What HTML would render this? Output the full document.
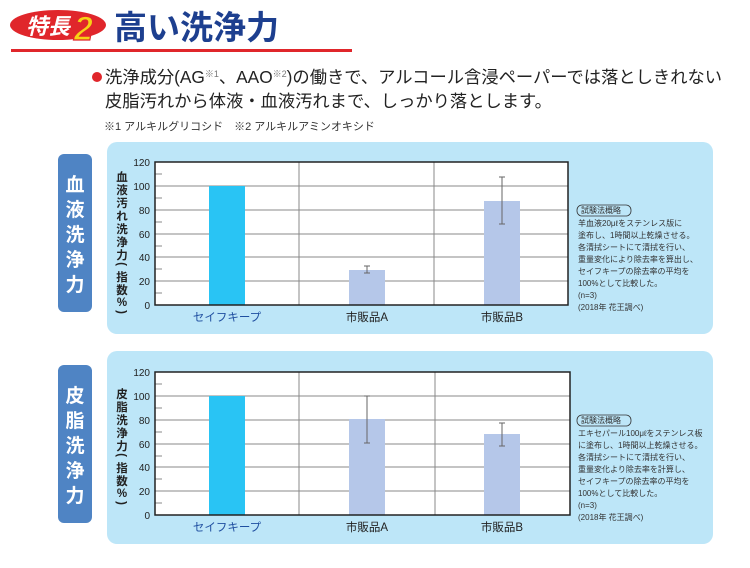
<!DOCTYPE html>
<html><head><meta charset="utf-8"><style>
body{margin:0;background:#fff;}
svg text{font-family:"Liberation Sans","Noto Sans CJK JP",sans-serif;}
</style></head><body>
<svg width="750" height="563" viewBox="0 0 750 563" xmlns="http://www.w3.org/2000/svg">
<!-- header -->
<ellipse cx="58" cy="25" rx="48" ry="15" fill="#e0262b"/>
<text x="26" y="34" font-size="22" font-weight="bold" font-style="italic" fill="#fff">特長</text>
<text x="74" y="40" font-size="34" font-weight="bold" font-style="italic" fill="#f7d115" stroke="#e0262b" stroke-width="1.2">2</text>
<text x="114" y="39" font-size="33" font-weight="bold" fill="#1d3f8f">高い洗浄力</text>
<rect x="11" y="49" width="341" height="3" fill="#e0262b"/>
<circle cx="97" cy="77" r="5" fill="#e0262b"/>
<text x="105" y="83" font-size="17.3" fill="#222">洗浄成分(AG<tspan font-size="9" dy="-6" fill="#777">※1</tspan><tspan dy="6">、AAO</tspan><tspan font-size="9" dy="-6" fill="#777">※2</tspan><tspan dy="6">)の働きで、アルコール含浸ペーパーでは落としきれない</tspan></text>
<text x="105" y="107" font-size="17.3" fill="#222">皮脂汚れから体液・血液汚れまで、しっかり落とします。</text>
<text x="104" y="130" font-size="11" fill="#333">※1 アルキルグリコシド　※2 アルキルアミンオキシド</text>

<!-- panel 1 -->
<rect x="107" y="142" width="606" height="192" rx="10" fill="#bde6f8"/>
<rect x="58" y="154" width="34" height="158" rx="6" fill="#4f84c4"/>
<g font-size="19" fill="#fff" text-anchor="middle" font-weight="bold">
<text x="75" y="191">血</text><text x="75" y="216">液</text><text x="75" y="241">洗</text><text x="75" y="266">浄</text><text x="75" y="291">力</text></g>
<rect x="155" y="162" width="413" height="143" fill="#fff"/>
<g stroke="#888" stroke-width="1">
<line x1="155" y1="186" x2="568" y2="186"/><line x1="155" y1="210" x2="568" y2="210"/><line x1="155" y1="234" x2="568" y2="234"/><line x1="155" y1="257" x2="568" y2="257"/><line x1="155" y1="281" x2="568" y2="281"/>
<line x1="299" y1="162" x2="299" y2="305"/><line x1="434" y1="162" x2="434" y2="305"/>
<line x1="155" y1="174" x2="162" y2="174"/><line x1="155" y1="198" x2="162" y2="198"/><line x1="155" y1="222" x2="162" y2="222"/><line x1="155" y1="246" x2="162" y2="246"/><line x1="155" y1="269" x2="162" y2="269"/><line x1="155" y1="293" x2="162" y2="293"/>
</g>
<rect x="209" y="186" width="36" height="119" fill="#29c4f4"/>
<rect x="349" y="270" width="36" height="35" fill="#b5c7e9"/>
<rect x="484" y="201" width="36" height="104" fill="#b5c7e9"/>
<g stroke="#666" stroke-width="1"><line x1="367" y1="266" x2="367" y2="273"/><line x1="364" y1="266" x2="370" y2="266"/><line x1="364" y1="273" x2="370" y2="273"/>
<line x1="502" y1="177" x2="502" y2="224"/><line x1="499" y1="177" x2="505" y2="177"/><line x1="499" y1="224" x2="505" y2="224"/></g>
<rect x="155" y="162" width="413" height="143" fill="none" stroke="#222" stroke-width="1.5"/>
<g font-size="10" fill="#222" text-anchor="end">
<text x="150" y="166">120</text><text x="150" y="190">100</text><text x="150" y="214">80</text><text x="150" y="238">60</text><text x="150" y="261">40</text><text x="150" y="285">20</text><text x="150" y="309">0</text></g>
<g font-size="11.5" font-weight="bold" fill="#222" text-anchor="middle">
<text x="122" y="181">血</text><text x="122" y="194">液</text><text x="122" y="207">汚</text><text x="122" y="220">れ</text><text x="122" y="233">洗</text><text x="122" y="246">浄</text><text x="122" y="259">力</text><text x="122" y="268" transform="rotate(90 122 264)">(</text><text x="122" y="281">指</text><text x="122" y="294">数</text><text x="122" y="306">%</text><text x="122" y="316" transform="rotate(90 122 312)">)</text></g>
<g font-size="11.5" text-anchor="middle"><text x="227" y="321" fill="#1f4fa0">セイフキープ</text><text x="367" y="321" fill="#222">市販品A</text><text x="502" y="321" fill="#222">市販品B</text></g>
<g font-size="8" fill="#333">
<rect x="577" y="205" width="54" height="11" rx="5" fill="none" stroke="#333" stroke-width="0.8"/>
<text x="581" y="213">試験法概略</text>
<text x="578" y="226">羊血液20μℓをステンレス版に</text><text x="578" y="238">塗布し、1時間以上乾燥させる。</text><text x="578" y="250">各清拭シートにて清拭を行い、</text><text x="578" y="262">重量変化により除去率を算出し、</text><text x="578" y="274">セイフキープの除去率の平均を</text><text x="578" y="286">100%として比較した。</text><text x="578" y="298">(n=3)</text><text x="578" y="310">(2018年 花王調べ)</text></g>

<!-- panel 2 -->
<rect x="107" y="351" width="606" height="193" rx="10" fill="#bde6f8"/>
<rect x="58" y="365" width="34" height="158" rx="6" fill="#4f84c4"/>
<g font-size="19" fill="#fff" text-anchor="middle" font-weight="bold">
<text x="75" y="402">皮</text><text x="75" y="427">脂</text><text x="75" y="452">洗</text><text x="75" y="477">浄</text><text x="75" y="502">力</text></g>
<rect x="155" y="372" width="415" height="143" fill="#fff"/>
<g stroke="#888" stroke-width="1">
<line x1="155" y1="396" x2="570" y2="396"/><line x1="155" y1="420" x2="570" y2="420"/><line x1="155" y1="444" x2="570" y2="444"/><line x1="155" y1="467" x2="570" y2="467"/><line x1="155" y1="491" x2="570" y2="491"/>
<line x1="299" y1="372" x2="299" y2="515"/><line x1="435" y1="372" x2="435" y2="515"/>
<line x1="155" y1="384" x2="162" y2="384"/><line x1="155" y1="408" x2="162" y2="408"/><line x1="155" y1="432" x2="162" y2="432"/><line x1="155" y1="456" x2="162" y2="456"/><line x1="155" y1="479" x2="162" y2="479"/><line x1="155" y1="503" x2="162" y2="503"/>
</g>
<rect x="209" y="396" width="36" height="119" fill="#29c4f4"/>
<rect x="349" y="419" width="36" height="96" fill="#b5c7e9"/>
<rect x="484" y="434" width="36" height="81" fill="#b5c7e9"/>
<g stroke="#666" stroke-width="1"><line x1="367" y1="396" x2="367" y2="443"/><line x1="364" y1="396" x2="370" y2="396"/><line x1="364" y1="443" x2="370" y2="443"/>
<line x1="502" y1="423" x2="502" y2="446"/><line x1="499" y1="423" x2="505" y2="423"/><line x1="499" y1="446" x2="505" y2="446"/></g>
<rect x="155" y="372" width="415" height="143" fill="none" stroke="#222" stroke-width="1.5"/>
<g font-size="10" fill="#222" text-anchor="end">
<text x="150" y="376">120</text><text x="150" y="400">100</text><text x="150" y="424">80</text><text x="150" y="448">60</text><text x="150" y="471">40</text><text x="150" y="495">20</text><text x="150" y="519">0</text></g>
<g font-size="11.5" font-weight="bold" fill="#222" text-anchor="middle">
<text x="122" y="398">皮</text><text x="122" y="411">脂</text><text x="122" y="424">洗</text><text x="122" y="437">浄</text><text x="122" y="450">力</text><text x="122" y="459" transform="rotate(90 122 455)">(</text><text x="122" y="472">指</text><text x="122" y="485">数</text><text x="122" y="497">%</text><text x="122" y="507" transform="rotate(90 122 503)">)</text></g>
<g font-size="11.5" text-anchor="middle"><text x="227" y="531" fill="#1f4fa0">セイフキープ</text><text x="367" y="531" fill="#222">市販品A</text><text x="502" y="531" fill="#222">市販品B</text></g>
<g font-size="8" fill="#333">
<rect x="577" y="415" width="54" height="11" rx="5" fill="none" stroke="#333" stroke-width="0.8"/>
<text x="581" y="423">試験法概略</text>
<text x="578" y="436">エキセパール100μℓをステンレス板</text><text x="578" y="448">に塗布し、1時間以上乾燥させる。</text><text x="578" y="460">各清拭シートにて清拭を行い、</text><text x="578" y="472">重量変化より除去率を計算し、</text><text x="578" y="484">セイフキープの除去率の平均を</text><text x="578" y="496">100%として比較した。</text><text x="578" y="508">(n=3)</text><text x="578" y="520">(2018年 花王調べ)</text></g>
</svg>
</body></html>
